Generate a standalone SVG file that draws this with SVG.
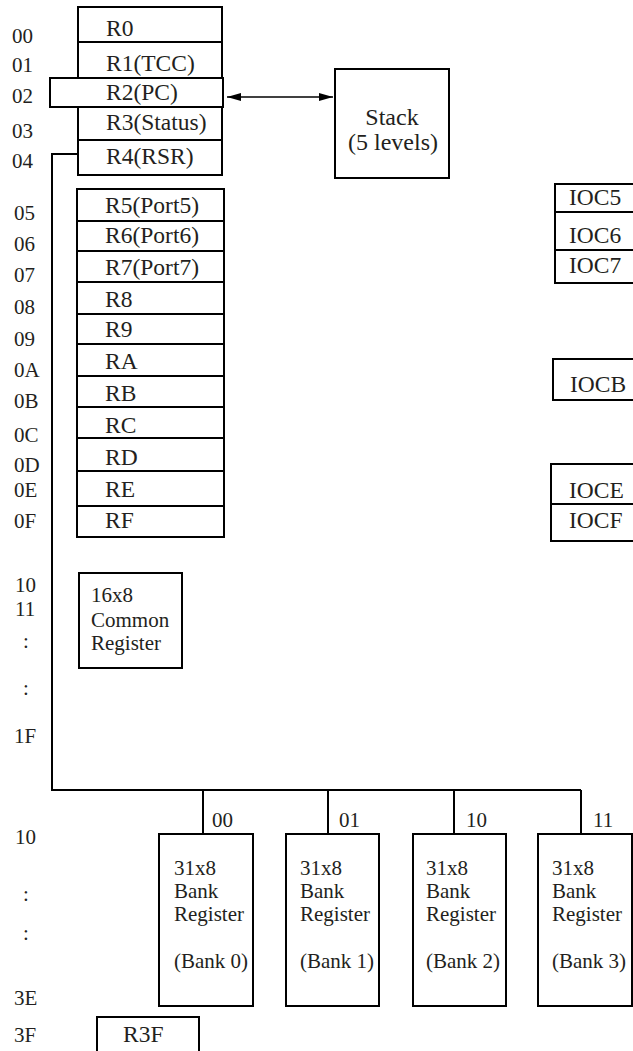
<svg xmlns="http://www.w3.org/2000/svg" width="633" height="1051" viewBox="0 0 633 1051">
<style>
text{font-family:"Liberation Serif","Tinos","Times New Roman","DejaVu Serif",serif;fill:#231f20}
.a{font-size:21px}
.r{font-size:23.5px}
.s{font-size:24px}
.b{font-size:21px}
.box{fill:#fff;stroke:#000;stroke-width:2}
.ln{fill:none;stroke:#000;stroke-width:2}
</style>
<defs>
<marker id="ah" viewBox="0 0 14 8" refX="14" refY="4" markerWidth="14" markerHeight="8" markerUnits="userSpaceOnUse" orient="auto-start-reverse">
<path d="M0,0 L14,4 L0,8 Z" fill="#000"/>
</marker>
</defs>
<g id="addresses" class="a" font-family="Liberation Serif, serif">
<text x="12" y="43">00</text>
<text x="12" y="72">01</text>
<text x="12" y="103">02</text>
<text x="12" y="138">03</text>
<text x="12" y="168">04</text>
<text x="14" y="220">05</text>
<text x="14" y="251">06</text>
<text x="14" y="282">07</text>
<text x="14" y="314">08</text>
<text x="14" y="346">09</text>
<text x="14" y="377">0A</text>
<text x="14" y="408">0B</text>
<text x="14" y="442">0C</text>
<text x="14" y="472">0D</text>
<text x="14" y="497">0E</text>
<text x="14" y="528">0F</text>
<text x="15" y="592">10</text>
<text x="15" y="616">11</text>
<text x="23" y="648">:</text>
<text x="23" y="695">:</text>
<text x="14" y="743">1F</text>
<text x="15" y="844">10</text>
<text x="23" y="901">:</text>
<text x="23" y="940">:</text>
<text x="14" y="1005">3E</text>
<text x="14" y="1042">3F</text>
</g>
<g id="connectors">
<polyline class="ln" points="78,154 52,154 52,790 581,790"/>
<line class="ln" x1="203" y1="790" x2="203" y2="834"/>
<line class="ln" x1="328" y1="790" x2="328" y2="834"/>
<line class="ln" x1="454" y1="790" x2="454" y2="834"/>
<line class="ln" x1="581" y1="790" x2="581" y2="834"/>
<line x1="227" y1="97" x2="333" y2="97" stroke="#000" stroke-width="1.5" marker-start="url(#ah)" marker-end="url(#ah)"/>
<g class="a">
<text x="212" y="827">00</text>
<text x="339" y="827">01</text>
<text x="466" y="827">10</text>
<text x="593" y="827">11</text>
</g>
</g>
<g id="top-registers">
<rect class="box" x="78" y="7" width="144" height="168"/>
<line class="ln" x1="78" y1="42" x2="222" y2="42"/>
<line class="ln" x1="78" y1="140" x2="222" y2="140"/>
<rect class="box" x="50" y="78" width="173" height="29"/>
<g class="r">
<text x="106" y="36">R0</text>
<text x="106" y="71">R1(TCC)</text>
<text x="106" y="100">R2(PC)</text>
<text x="106" y="130">R3(Status)</text>
<text x="106" y="164">R4(RSR)</text>
</g>
</g>
<g id="stack">
<rect class="box" x="335" y="69" width="114" height="109"/>
<text class="s" x="392" y="125" text-anchor="middle">Stack</text>
<text class="s" x="393" y="150" text-anchor="middle">(5 levels)</text>
</g>
<g id="port-registers">
<rect class="box" x="77" y="189" width="147" height="348"/>
<path class="ln" d="M77,221H224M77,251H224M77,282H224M77,314H224M77,344H224M77,376H224M77,407H224M77,438H224M77,471H224M77,506H224"/>
<g class="r">
<text x="105" y="213">R5(Port5)</text>
<text x="105" y="243">R6(Port6)</text>
<text x="105" y="275">R7(Port7)</text>
<text x="105" y="307">R8</text>
<text x="105" y="337">R9</text>
<text x="105" y="369">RA</text>
<text x="105" y="401">RB</text>
<text x="105" y="433">RC</text>
<text x="105" y="465">RD</text>
<text x="105" y="497">RE</text>
<text x="105" y="528">RF</text>
</g>
</g>
<g id="ioc567">
<path class="ln" d="M634,184H555V283H634M555,212H634M555,250H634"/>
<g class="r">
<text x="569" y="205">IOC5</text>
<text x="569" y="243">IOC6</text>
<text x="569" y="273">IOC7</text>
</g>
</g>
<g id="iocb">
<path class="ln" d="M634,359H553V400H634"/>
<text class="r" x="570" y="392">IOCB</text>
</g>
<g id="ioce-iocf">
<path class="ln" d="M634,464H551V541H634M551,504H634"/>
<g class="r">
<text x="569" y="498">IOCE</text>
<text x="569" y="528">IOCF</text>
</g>
</g>
<g id="common-register">
<rect class="box" x="79" y="573" width="103" height="95"/>
<g class="b">
<text x="91" y="602">16x8</text>
<text x="91" y="627">Common</text>
<text x="91" y="650">Register</text>
</g>
</g>
<g id="bank0">
<rect class="box" x="159" y="834" width="94" height="172"/>
<g class="b"><text x="174" y="875">31x8</text><text x="174" y="898">Bank</text><text x="174" y="921">Register</text><text x="174" y="968">(Bank 0)</text></g>
</g>
<g id="bank1">
<rect class="box" x="286" y="834" width="93" height="172"/>
<g class="b"><text x="300" y="875">31x8</text><text x="300" y="898">Bank</text><text x="300" y="921">Register</text><text x="300" y="968">(Bank 1)</text></g>
</g>
<g id="bank2">
<rect class="box" x="413" y="834" width="93" height="172"/>
<g class="b"><text x="426" y="875">31x8</text><text x="426" y="898">Bank</text><text x="426" y="921">Register</text><text x="426" y="968">(Bank 2)</text></g>
</g>
<g id="bank3">
<rect class="box" x="538" y="834" width="94" height="172"/>
<g class="b"><text x="552" y="875">31x8</text><text x="552" y="898">Bank</text><text x="552" y="921">Register</text><text x="552" y="968">(Bank 3)</text></g>
</g>
<g id="r3f">
<path class="ln" d="M97,1053V1017H199V1053"/>
<text class="r" x="123" y="1042">R3F</text>
</g>
</svg>
